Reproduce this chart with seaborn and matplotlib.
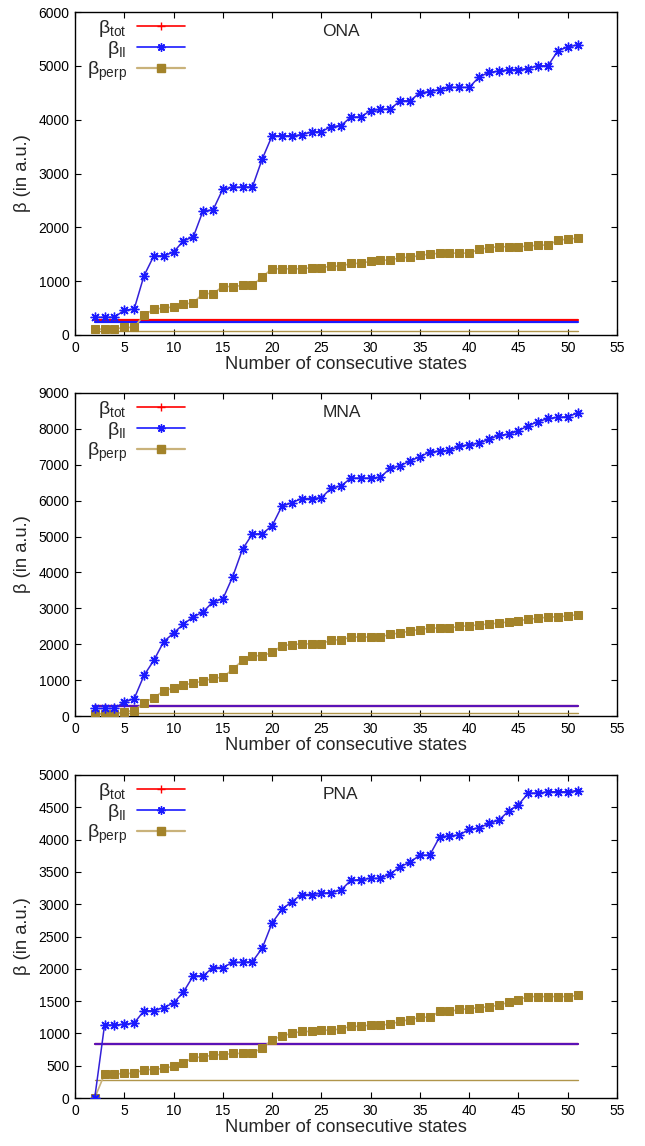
import numpy as np
import pandas as pd
import matplotlib
matplotlib.use("Agg")
import matplotlib.pyplot as plt
import seaborn as sns
from matplotlib.lines import Line2D

sns.set_theme(style="ticks")
plt.rcParams['font.family'] = ['Liberation Sans', 'DejaVu Sans']
plt.rcParams['mathtext.fontset'] = 'custom'
plt.rcParams['mathtext.rm'] = 'Liberation Sans'
plt.rcParams['mathtext.it'] = 'Liberation Sans:italic'

states = list(range(2, 52))

ona_par = [330, 330, 330, 460, 480, 1100, 1470, 1470, 1540, 1750, 1820, 2310, 2320, 2710, 2740,
           2750, 2750, 3270, 3700, 3700, 3700, 3720, 3770, 3780, 3870, 3890, 4050, 4050, 4170, 4190,
           4200, 4350, 4350, 4500, 4520, 4560, 4600, 4600, 4600, 4790, 4880, 4900, 4930, 4930, 4950,
           5000, 5000, 5280, 5350, 5390]
ona_perp = [110, 110, 110, 140, 140, 370, 480, 500, 520, 570, 600, 770, 770, 900, 900,
            920, 920, 1080, 1230, 1230, 1230, 1230, 1250, 1250, 1280, 1280, 1330, 1330, 1370, 1390,
            1390, 1440, 1440, 1480, 1500, 1520, 1520, 1520, 1520, 1590, 1620, 1640, 1640, 1640, 1650,
            1670, 1670, 1760, 1780, 1800]
mna_par = [210, 210, 210, 390, 480, 1130, 1550, 2070, 2310, 2560, 2760, 2900, 3180, 3260, 3880,
           4650, 5070, 5080, 5300, 5850, 5940, 6060, 6060, 6080, 6350, 6410, 6630, 6630, 6630, 6650,
           6910, 6970, 7110, 7220, 7360, 7380, 7400, 7520, 7560, 7600, 7710, 7820, 7850, 7950, 8090,
           8200, 8290, 8320, 8340, 8440]
mna_perp = [50, 50, 50, 120, 150, 370, 510, 700, 780, 860, 920, 970, 1050, 1080, 1300,
            1550, 1680, 1680, 1770, 1960, 1990, 2010, 2010, 2010, 2120, 2120, 2200, 2200, 2200, 2200,
            2280, 2310, 2370, 2410, 2450, 2450, 2450, 2500, 2510, 2540, 2560, 2590, 2620, 2650, 2700,
            2720, 2760, 2760, 2790, 2820]
pna_par = [0, 1130, 1130, 1140, 1160, 1350, 1350, 1400, 1470, 1640, 1890, 1890, 2020, 2020, 2100,
           2100, 2110, 2320, 2710, 2920, 3040, 3150, 3150, 3170, 3180, 3220, 3370, 3380, 3400, 3400,
           3470, 3580, 3650, 3760, 3760, 4040, 4060, 4070, 4160, 4180, 4250, 4300, 4440, 4540, 4720,
           4720, 4740, 4740, 4740, 4760]
pna_perp = [0, 370, 370, 380, 380, 440, 440, 460, 490, 540, 630, 630, 670, 670, 690,
            690, 700, 770, 900, 960, 1000, 1030, 1030, 1050, 1050, 1070, 1110, 1110, 1130, 1130,
            1140, 1190, 1210, 1250, 1250, 1340, 1340, 1370, 1380, 1400, 1410, 1440, 1480, 1520, 1570,
            1570, 1570, 1570, 1570, 1590]

molecules = ["ONA", "MNA", "PNA"]
ref_tot = [272, 280, 830]
ref_par = [245, 280, 830]
ref_perp = [70, 82, 280]
ymaxes = [6000, 9000, 5000]
ysteps = [1000, 1000, 500]

par_series = [ona_par, mna_par, pna_par]
perp_series = [ona_perp, mna_perp, pna_perp]

RED = '#ff0000'
BLUE = '#1a1aff'
BLUE_LINE = '#3320d8'
OLIVE = '#a3832a'
TAN = '#c9b27a'
STAR = (8, 2, 0)

W, H = 645, 1146
fig = plt.figure(figsize=(W / 100, H / 100), dpi=100)
tops = [12, 393, 775]
left, right = 75, 617
ph = 323

for i, mol in enumerate(molecules):
    ax = fig.add_axes([left / W, (H - tops[i] - ph) / H, (right - left) / W, ph / H])
    df = pd.DataFrame({"n": states, "par": par_series[i], "perp": perp_series[i]})
    xs_ref = [states[0], states[-1]]
    # reference (horizontal) lines
    ax.plot(xs_ref, [ref_tot[i]] * 2, color=RED, lw=1.6, zorder=2)
    ax.plot(xs_ref, [ref_par[i]] * 2, color=BLUE, lw=1.6,
            alpha=0.72 if ref_par[i] == ref_tot[i] else 1.0, zorder=2)
    ax.plot(xs_ref, [ref_perp[i]] * 2, color=OLIVE, lw=1.0, alpha=0.85, zorder=2)
    sns.lineplot(data=df, x="n", y="perp", ax=ax, color=TAN, lw=1.2, marker='s', markersize=5.5,
                 markerfacecolor=OLIVE, markeredgecolor=OLIVE, zorder=3)
    sns.lineplot(data=df, x="n", y="par", ax=ax, color=BLUE_LINE, lw=1.1, marker=STAR, markersize=7,
                 markeredgecolor=BLUE, markeredgewidth=1.0, zorder=4)

    ax.set_xlim(0, 55)
    ax.set_ylim(0, ymaxes[i])
    ax.set_xticks(np.arange(0, 56, 5))
    ax.set_yticks(np.arange(0, ymaxes[i] + 1, ysteps[i]))
    ax.tick_params(direction='in', top=True, right=True, length=4, width=0.8, labelsize=10,
                   colors='black', pad=4)
    for s in ax.spines.values():
        s.set_linewidth(1.0)
        s.set_color('black')
    ax.set_xlabel("Number of consecutive states", fontsize=13.2, labelpad=1)
    ax.set_ylabel("β (in a.u.)", fontsize=13.2, labelpad=5)
    ax.text(0.456, 0.94, mol, transform=ax.transAxes, fontsize=12.5, ha='left', va='center')

    handles = [
        Line2D([], [], color=RED, lw=1.2, marker='+', markersize=6, markeredgewidth=1),
        Line2D([], [], color=BLUE, lw=1.2, marker=STAR, markersize=6, markeredgewidth=1.0),
        Line2D([], [], color=TAN, lw=1.6, marker='s', markersize=6, markerfacecolor=OLIVE, markeredgecolor=OLIVE),
    ]
    labels = [r'$\mathrm{β_{tot}}$', r'$\mathrm{β_{II}}$', r'$\mathrm{β_{perp}}$']
    leg = ax.legend(handles, labels, loc='upper left', bbox_to_anchor=(0.0, 1.017), markerfirst=False,
                    frameon=False, fontsize=14, handlelength=2.5, handletextpad=0.5,
                    labelspacing=-0.02, borderaxespad=0.2)
    leg._legend_box.align = "right"

fig.savefig("out.png", dpi=100)
